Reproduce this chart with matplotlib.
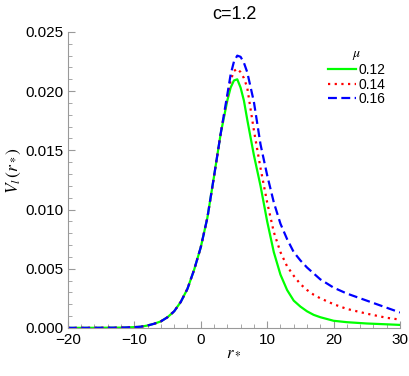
import matplotlib
matplotlib.use("Agg")
import matplotlib.pyplot as plt
from matplotlib.ticker import MultipleLocator

plt.rcParams['font.family'] = ['Liberation Sans', 'DejaVu Sans']
plt.rcParams['mathtext.fontset'] = 'stix'

# values
r = [-20, -16, -12, -10, -9, -8, -7, -6, -5, -4, -3, -2, -1, 0, 1, 2, 3,
     4, 4.5, 5, 5.5, 6, 6.5, 7, 8, 9, 10, 11, 12, 13, 14, 15, 16, 17, 18,
     20, 22, 25, 28, 30]
rise = [0.0, 0.000005, 0.00002, 0.00006, 0.0001, 0.0002, 0.00035, 0.00055,
        0.0009, 0.0014, 0.0022, 0.0033, 0.0049, 0.0068, 0.0093, 0.0128, 0.0164]
v_012 = rise + [0.0192, 0.0203, 0.0209, 0.0210, 0.0203, 0.0192, 0.0176,
                0.0146, 0.0120, 0.0090, 0.0064, 0.0045, 0.0032, 0.0023, 0.0018,
                0.0014, 0.0011, 0.0009, 0.0006, 0.00048, 0.00037, 0.0003, 0.00025]
v_014 = rise + [0.0195, 0.0209, 0.0217, 0.0219, 0.0216, 0.0211, 0.0203,
                0.0167, 0.0135, 0.0106, 0.0081, 0.0064, 0.0052, 0.0044, 0.0037,
                0.0032, 0.0028, 0.0025, 0.0020, 0.0016, 0.0012, 0.00085, 0.0007]
v_016 = rise + [0.0197, 0.0214, 0.0225, 0.0230, 0.0229, 0.0224, 0.0216,
                0.0191, 0.0155, 0.0129, 0.0106, 0.0088, 0.0075, 0.0064, 0.0057,
                0.0051, 0.0046, 0.0041, 0.0034, 0.0029, 0.0023, 0.0017, 0.0013]
mu_labels = ['0.12', '0.14', '0.16']

fig = plt.figure(figsize=(4.09, 3.76), dpi=100)
ax = fig.add_axes([0.166, 0.128, 0.812, 0.787])

ax.plot(r, v_012, color='#00ff00', lw=1.6, ls='-', label=mu_labels[0])
ax.plot(r, v_014, color='#ff0000', lw=1.6, ls=(0, (1, 2)), label=mu_labels[1])
ax.plot(r, v_016, color='#0000ff', lw=1.6, ls=(0, (4, 2)), label=mu_labels[2])

ax.set_xlim(-20, 30)
ax.set_ylim(0, 0.025)
ax.xaxis.set_major_locator(MultipleLocator(10))
ax.xaxis.set_minor_locator(MultipleLocator(2))
ax.yaxis.set_major_locator(MultipleLocator(0.005))
ax.yaxis.set_minor_locator(MultipleLocator(0.001))
ax.yaxis.set_major_formatter(matplotlib.ticker.FormatStrFormatter('%.3f'))

for s in ['top', 'right']:
    ax.spines[s].set_visible(False)
for s in ['left', 'bottom']:
    ax.spines[s].set_color('#999999')
ax.tick_params(which='both', direction='in', color='#999999', labelsize=11)
ax.tick_params(which='major', length=5)
ax.tick_params(which='minor', length=3)

ax.set_title('c=1.2', fontsize=13, pad=9)
ax.set_xlabel('$r_*$', fontsize=12, labelpad=-2)
ax.set_ylabel('$V_l\\,(r_*)$', fontsize=12.5)
ax.yaxis.set_label_coords(-0.135, 0.53)

leg = ax.legend(title='$\\mu$', loc='upper right', bbox_to_anchor=(0.985, 0.985),
                frameon=False, fontsize=10, handlelength=2.0, handletextpad=0.2,
                labelspacing=0.05, borderpad=0.2)
leg.get_title().set_fontsize(10)

fig.savefig('out.png', dpi=100)
